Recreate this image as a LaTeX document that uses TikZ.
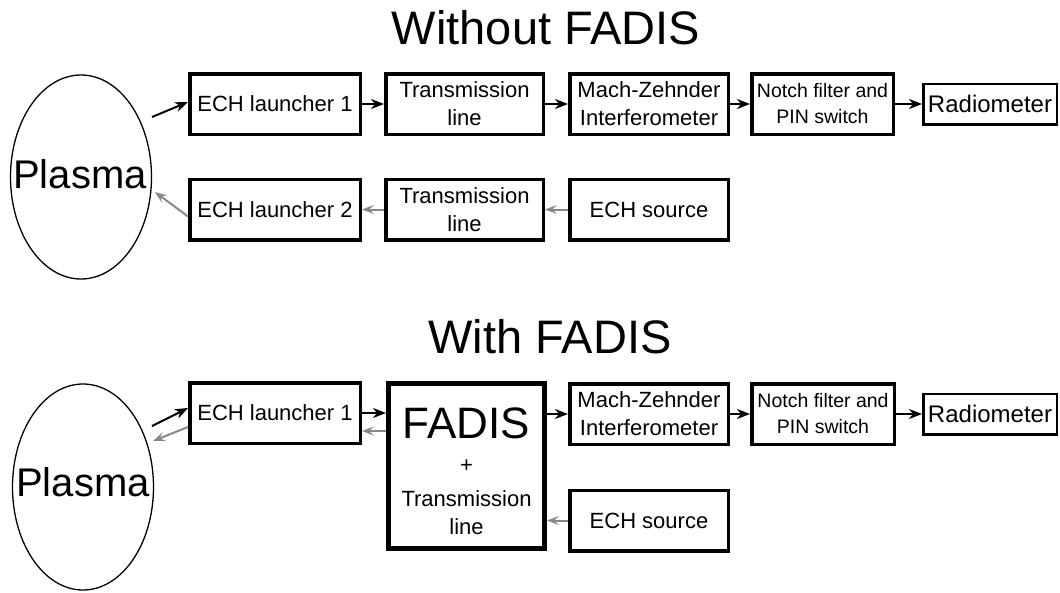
\documentclass[tikz,border=0pt]{standalone}
\usepackage{fontspec}
\setmainfont{Liberation Sans}
\usepackage{xcolor}
\usepackage{tikz}
\usetikzlibrary{shapes.geometric,arrows.meta}
\definecolor{backgray}{RGB}{135,135,135}

\begin{document}
\begin{tikzpicture}[x = 1pt, y = -1pt,
        box/.style = {draw, line width = 3.5pt, inner sep = 0pt, minimum height = 60.5pt, align = center, font = \fontsize{22}{28}\selectfont},
        radbox/.style = {draw, line width = 2.5pt, inner sep = 0pt, minimum width = 133.5pt, minimum height = 40.5pt, font = \fontsize{24}{28}\selectfont},
        plasmabox/.style = {ellipse, draw, line width = 1.3pt, inner sep = 0pt, minimum width = 141pt, minimum height = 204pt},
        plasmatext/.style = {font = \fontsize{40}{44}\selectfont},
        title/.style = {anchor = base, font = \fontsize{47}{50}\selectfont},
        fwd/.style = {line width = 2pt, -{Stealth[length = 13pt, width = 10pt, inset = 4pt]}},
        back/.style = {line width = 2pt, backgray, -{Stealth[length = 12pt, width = 9pt, inset = 5pt]}}]
        \useasboundingbox (0, 0) rectangle (1060, 592);
        % without FADIS
        \node (title1) at (546, 44) [title] {Without FADIS};
        \node (plasma1) at (81, 177) [plasmabox] {};
        \node (plasmaname1) at (80, 174) [plasmatext] {Plasma};
        \node (l1a) at (275, 104) [box, minimum width = 170.5pt] {ECH launcher 1};
        \node (tl1) at (464.5, 104) [box, minimum width = 157.5pt] {Transmission\\line};
        \node (mz1) at (649, 104) [box, minimum width = 158.5pt] {Mach-Zehnder\\Interferometer};
        \node (nf1) at (822.5, 104) [box, minimum width = 141.5pt, font = \fontsize{19.5}{26}\selectfont] {Notch filter and\\PIN switch};
        \node (rad1) at (990, 104) [radbox] {Radiometer};
        \node (l2) at (275, 209.5) [box, minimum width = 170.5pt] {ECH launcher 2};
        \node (tl2) at (464.5, 209.5) [box, minimum width = 157.5pt] {Transmission\\line};
        \node (src1) at (649, 209.5) [box, minimum width = 158.5pt] {ECH source};
        \coordinate (p1out) at (152, 117);
        \coordinate (p1in) at (155, 192);
        \draw [fwd] (p1out) -- ([yshift = 2pt]l1a.west);
        \draw [fwd] (l1a) -- (tl1);
        \draw [fwd] (tl1) -- (mz1);
        \draw [fwd] (mz1) -- (nf1);
        \draw [fwd] (nf1) -- (rad1);
        \draw [back] (src1) -- (tl2);
        \draw [back] (tl2) -- (l2);
        \draw [back] ([yshift = -7pt]l2.west) -- (p1in);
        % with FADIS
        \node (title2) at (550, 353) [title] {With FADIS};
        \node (plasma2) at (83, 487) [plasmabox, minimum height = 206pt] {};
        \node (plasmaname2) at (83, 482) [plasmatext] {Plasma};
        \node (l1b) at (275, 413) [box, minimum width = 170.5pt] {ECH launcher 1};
        \node (fadis) at (466.5, 466) [draw, line width = 5pt, minimum width = 156pt, minimum height = 165pt] {};
        \node (fadisname) at (466.5, 438) [anchor = base, font = \fontsize{44}{44}\selectfont] {FADIS};
        \node (fadisplus) at (466.5, 472) [anchor = base, font = \fontsize{22}{28}\selectfont] {+};
        \node (fadisline) at (466.5, 513) [align = center, font = \fontsize{22}{28}\selectfont] {Transmission\\line};
        \node (mz2) at (649, 414) [box, minimum width = 158.5pt] {Mach-Zehnder\\Interferometer};
        \node (nf2) at (823, 414) [box, minimum width = 142.5pt, font = \fontsize{19.5}{26}\selectfont] {Notch filter and\\PIN switch};
        \node (rad2) at (990, 414) [radbox] {Radiometer};
        \node (src2) at (649, 520.5) [box, minimum width = 158.5pt] {ECH source};
        \coordinate (p2out) at (152, 426);
        \coordinate (p2in) at (153, 441);
        \draw [fwd] (p2out) -- ([yshift = 5pt]l1b.west);
        \draw [back] ([yshift = -14pt]l1b.west) -- (p2in);
        \draw [fwd] (l1b) -- (l1b -| fadis.west);
        \draw [back] ([yshift = -18pt]l1b.east -| fadis.west) -- ([yshift = -18pt]l1b.east);
        \draw [fwd] (mz2 -| fadis.east) -- (mz2);
        \draw [fwd] (mz2) -- (nf2);
        \draw [fwd] (nf2) -- (rad2);
        \draw [back] (src2) -- (src2 -| fadis.east);
\end{tikzpicture}
\end{document}
